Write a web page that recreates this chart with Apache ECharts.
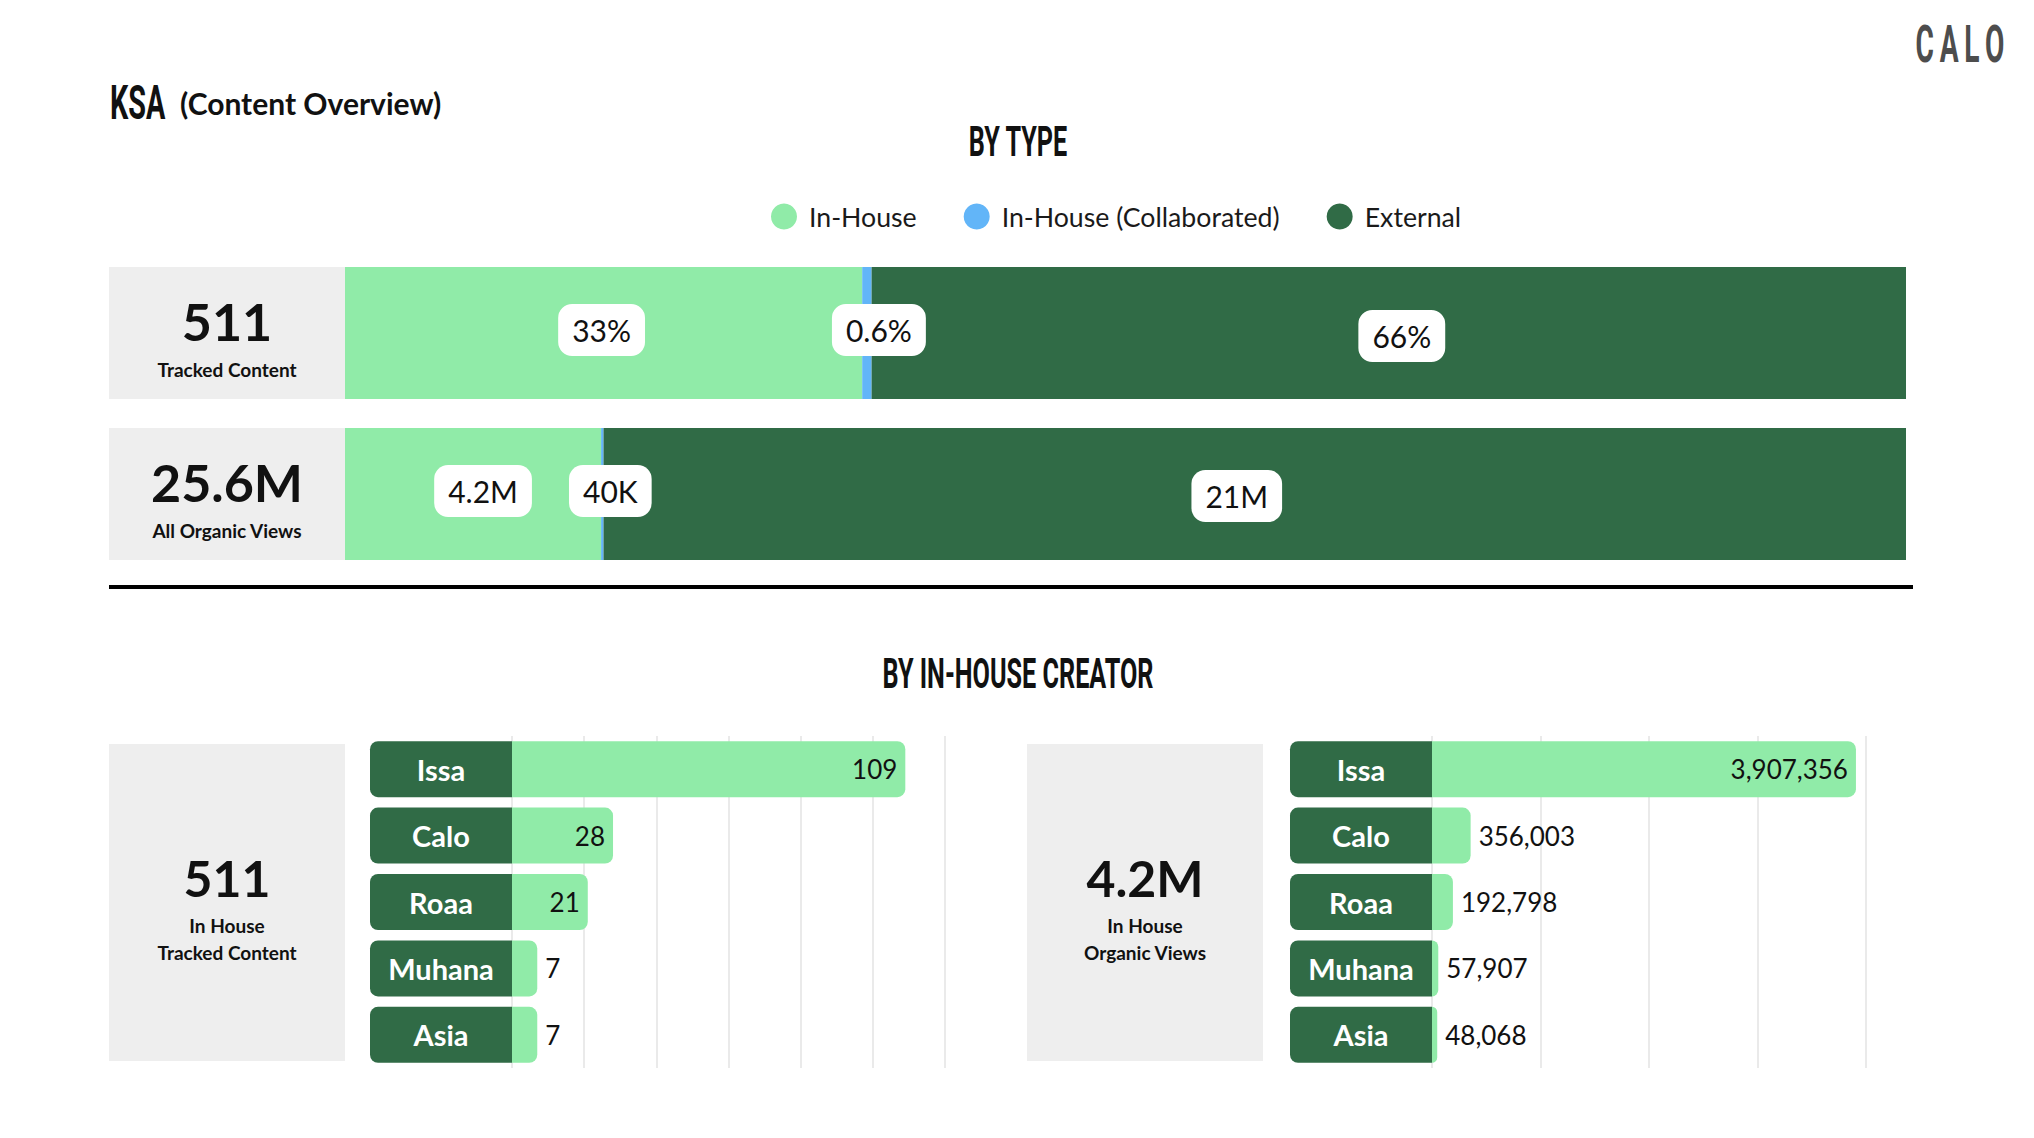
<!DOCTYPE html>
<html>
<head>
<meta charset="utf-8">
<title>KSA Content Overview</title>
<script src="https://cdn.jsdelivr.net/npm/echarts@6/dist/echarts.min.js"></script>
<style>
  html, body { margin: 0; padding: 0; background: #fff; }
  #main { width: 2034px; height: 1138px; }
</style>
</head>
<body>
<div id="main"></div>
<script>
// by type
var typeNames = ['In-House', 'In-House (Collaborated)', 'External'];
var typeRows = ['511', '25.6M'];
var typeRowCaptions = ['Tracked Content', 'All Organic Views'];
var trackedShare = [33, 0.6, 66];        // % of tracked content
var viewsMillions = [4.2, 0.04, 21.36];  // organic views, millions

// by in-house creator
var creators = ['Issa', 'Calo', 'Roaa', 'Muhana', 'Asia'];
var creatorContent = [109, 28, 21, 7, 7];
var creatorViews = [3907356, 356003, 192798, 57907, 48068];
var panelTotals = ['511', '4.2M'];
var panelCaptions = [['In House', 'Tracked Content'], ['In House', 'Organic Views']];

var LIGHT = '#90EBA8', BLUE = '#62B5F8', DARK = '#306B46', GREY = '#EEEEEE';
var typeColors = [LIGHT, BLUE, DARK];
// small label nudges per segment [row1, row2]
var labelNudge = [[[-2, -3], [10, -3]], [[12, -3], [8, -3]], [[13, 3], [-18, 2]]];

var chart = echarts.init(document.getElementById('main'), null, { renderer: 'svg' });

function shareOf(values) {
    var sum = values.reduce(function (a, b) { return a + b; }, 0);
    return values.map(function (v) { return v / sum * 100; });
}
var trackedPct = shareOf(trackedShare);
var viewsPct = shareOf(viewsMillions);

function fmtViews(m) {
    if (m < 1) return Math.round(m * 1000) + 'K';
    if (m < 10) return m.toFixed(1) + 'M';
    return Math.round(m) + 'M';
}

var typeSeries = typeNames.map(function (name, i) {
    return {
        name: name,
        type: 'bar',
        stack: 'type',
        xAxisIndex: 0,
        yAxisIndex: 0,
        barWidth: 132,
        itemStyle: { color: typeColors[i] },
        data: [trackedPct[i], viewsPct[i]].map(function (v, r) {
            return { value: v, label: { offset: labelNudge[i][r] } };
        }),
        label: {
            show: true,
            position: 'inside',
            formatter: function (p) {
                return p.dataIndex === 0 ? trackedShare[i] + '%' : fmtViews(viewsMillions[i]);
            },
            backgroundColor: '#fff',
            borderRadius: 14,
            padding: [10, 14],
            color: '#111',
            fontFamily: 'Lato',
            fontSize: 30,
            lineHeight: 32
        }
    };
});

function creatorSeries(values, max, idx, fmt) {
    return {
        type: 'bar',
        xAxisIndex: idx,
        yAxisIndex: idx,
        barWidth: 56,
        itemStyle: { color: LIGHT, borderRadius: [0, 8, 8, 0] },
        label: {
            show: true,
            distance: 8,
            color: '#111',
            fontFamily: 'Lato',
            fontSize: 26,
            formatter: function (p) { return fmt(p.value); }
        },
        data: values.map(function (v) {
            return { value: v, label: { position: v / max > 0.12 ? 'insideRight' : 'right' } };
        })
    };
}

function creatorAxis(idx) {
    return {
        type: 'category',
        gridIndex: idx,
        inverse: true,
        data: creators,
        axisLine: { show: false },
        axisTick: { show: false },
        axisLabel: {
            margin: 0,
            formatter: '{n|{value}}',
            rich: {
                n: {
                    width: 142,
                    height: 56,
                    lineHeight: 56,
                    align: 'center',
                    backgroundColor: DARK,
                    borderRadius: [8, 0, 0, 8],
                    color: '#fff',
                    fontFamily: 'Lato',
                    fontWeight: 'bold',
                    fontSize: 29
                }
            }
        }
    };
}

function valueAxis(idx, max, interval) {
    return {
        type: 'value',
        gridIndex: idx,
        min: 0,
        max: max,
        interval: interval,
        axisLabel: { show: false },
        axisLine: { show: false },
        axisTick: { show: false },
        splitLine: { show: idx > 0, lineStyle: { color: '#E3E3E3', width: 1.5 } }
    };
}

function panel(x, i) {
    return [{
        type: 'rect',
        shape: { x: x, y: 744, width: 236, height: 317 },
        style: { fill: GREY },
        silent: true
    }, {
        type: 'text',
        x: x + 118,
        y: 905,
        style: {
            text: '{n|' + panelTotals[i] + '}\n{s|' + panelCaptions[i][0] + '}\n{s|' + panelCaptions[i][1] + '}',
            align: 'center',
            verticalAlign: 'middle',
            rich: {
                n: { fontFamily: 'Lato', fontWeight: 'bold', fontSize: 50, lineHeight: 67, fill: '#111', align: 'center' },
                s: { fontFamily: 'Lato', fontWeight: 'bold', fontSize: 19, lineHeight: 27, fill: '#111', align: 'center' }
            }
        },
        silent: true
    }];
}

function heading(text, x, y, size, scale, extra) {
    var el = {
        type: 'text',
        x: x,
        y: y,
        scaleX: scale,
        style: {
            text: text,
            align: 'center',
            verticalAlign: 'middle',
            fontFamily: 'Roboto',
            fontWeight: 'bold',
            fontSize: size,
            fill: '#111'
        },
        silent: true
    };
    if (extra) Object.keys(extra).forEach(function (k) { el.style[k] = extra[k]; });
    return el;
}

var option = {
    animation: false,
    backgroundColor: '#fff',
    legend: {
        data: typeNames,
        left: 766,
        top: 198,
        icon: 'circle',
        itemWidth: 26,
        itemHeight: 26,
        itemGap: 47,
        selectedMode: false,
        textStyle: { fontFamily: 'Lato', fontSize: 26.7, color: '#1a1a1a', padding: [0, 0, 0, 7] }
    },
    grid: [
        { left: 345, width: 1561, top: 252.5, height: 322, outerBoundsMode: 'none' },
        { left: 512, width: 433, top: 736, height: 332, outerBoundsMode: 'none' },
        { left: 1432, width: 434, top: 736, height: 332, outerBoundsMode: 'none' }
    ],
    xAxis: [
        valueAxis(0, 100),
        valueAxis(1, 120, 20),
        valueAxis(2, 4000000, 1000000)
    ],
    yAxis: [
        {
            type: 'category',
            gridIndex: 0,
            inverse: true,
            data: typeRows,
            axisLine: { show: false },
            axisTick: { show: false },
            axisLabel: {
                margin: 118,
                align: 'center',
                width: 236,
                backgroundColor: GREY,
                padding: [18, 0, 18, 0],
                formatter: function (v, i) {
                    return '{n|' + v + '}\n{s|' + typeRowCaptions[i] + '}';
                },
                rich: {
                    n: { fontFamily: 'Lato', fontWeight: 'bold', fontSize: 52, lineHeight: 72, color: '#111', align: 'center' },
                    s: { fontFamily: 'Lato', fontWeight: 'bold', fontSize: 19, lineHeight: 24, color: '#111', align: 'center' }
                }
            }
        },
        creatorAxis(1),
        creatorAxis(2)
    ],
    series: typeSeries.concat([
        creatorSeries(creatorContent, 120, 1, function (v) { return String(v); }),
        creatorSeries(creatorViews, 4000000, 2, function (v) { return v.toLocaleString('en-US'); })
    ]),
    graphic: [
        heading('KSA', 110, 103, 48, 0.6, { align: 'left' }),
        {
            type: 'text',
            x: 180,
            y: 103,
            style: {
                text: '(Content Overview)',
                align: 'left',
                verticalAlign: 'middle',
                fontFamily: 'Lato',
                fontWeight: 'bold',
                fontSize: 30,
                fill: '#111'
            },
            silent: true
        },
        heading('BY TYPE', 1018, 141, 42, 0.6),
        heading('BY IN-HOUSE CREATOR', 1018, 673, 42, 0.6),
        heading('C\u2009A\u2009L\u2009O', 1960, 44, 52, 0.54, { fill: '#4d4d4d' }),
        {
            type: 'line',
            shape: { x1: 109, y1: 587, x2: 1913, y2: 587 },
            style: { stroke: '#000', lineWidth: 4 },
            silent: true
        }
    ].concat(panel(109, 0), panel(1027, 1))
};

chart.setOption(option);

window.onresize = function () {
    chart.resize();
};
</script>
</body>
</html>
